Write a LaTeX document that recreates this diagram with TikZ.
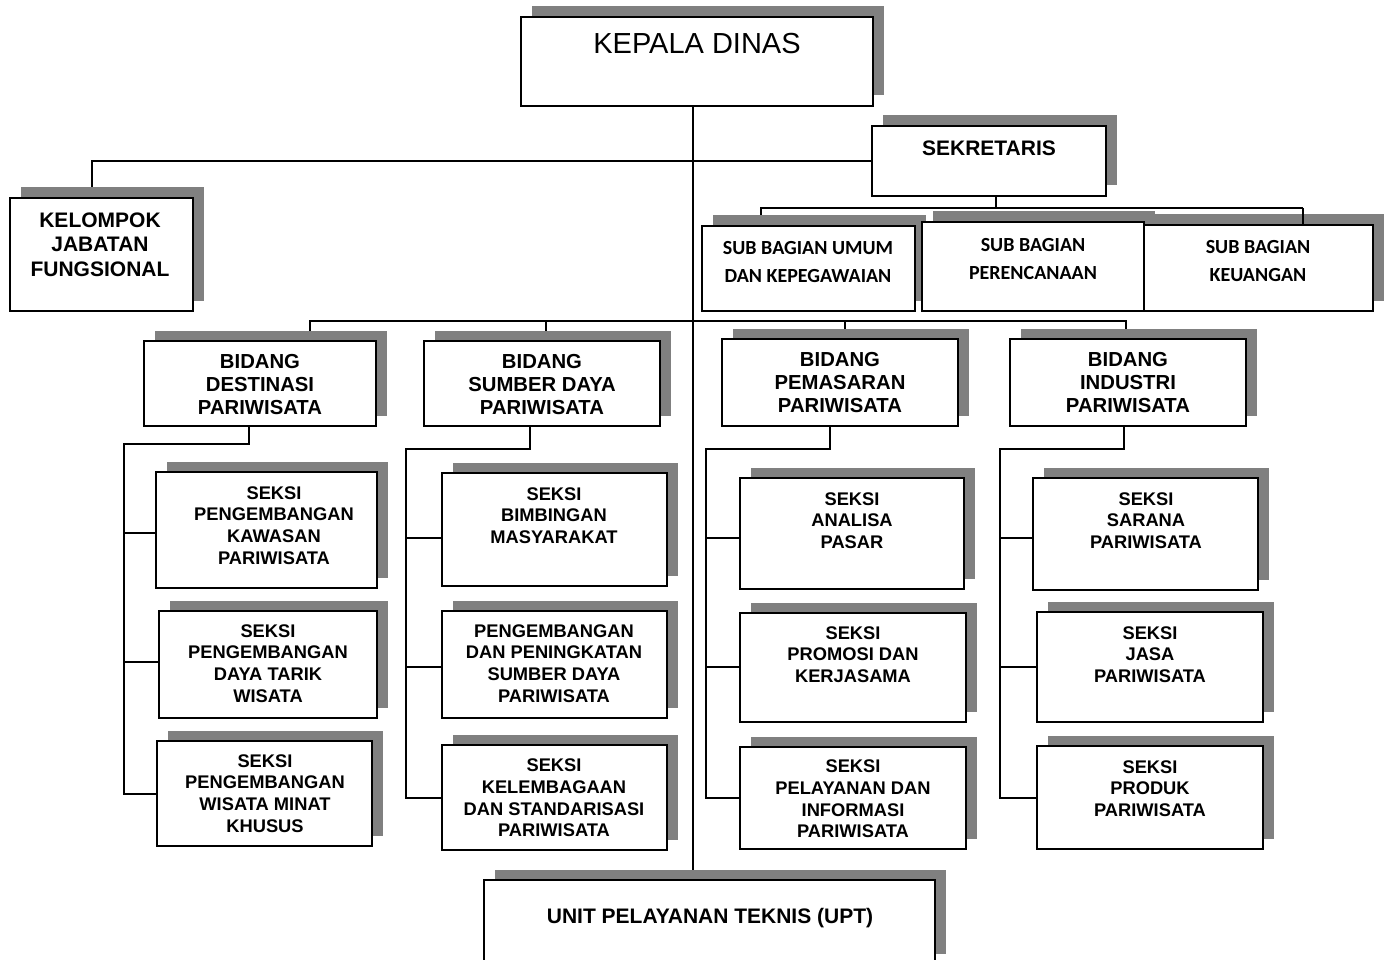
\documentclass[tikz,border=0pt]{standalone}
\usepackage{fontspec}
\setmainfont{Liberation Sans}
\newfontfamily\calib{Carlito}
\usetikzlibrary{fit,shadows}
\pgfdeclarelayer{bg}
\pgfsetlayers{bg,main}
\definecolor{shgray}{HTML}{808080}
\tikzset{
  box/.style={draw=black, line width=2pt, fill=white, inner sep=0pt,
    drop shadow={shadow xshift=10.5pt, shadow yshift=10.5pt, opacity=1, fill=shgray}},
  conn/.style={line width=1.8pt, black},
  tx/.style={inner sep=0pt, align=center, text=black},
  seks/.style={tx, font=\bfseries\fontsize{18.3}{21.7}\selectfont},
  bid/.style={tx, font=\bfseries\fontsize{20.3}{23}\selectfont},
  big/.style={tx, font=\bfseries\fontsize{21}{24.5}\selectfont},
  sub/.style={tx, font=\calib\bfseries\fontsize{20}{28}\selectfont},
  head/.style={tx, font=\fontsize{29}{34}\selectfont},
}
\begin{document}
\begin{tikzpicture}[x=1pt,y=-1pt]
\begin{pgfonlayer}{bg}
\path[fill=white] (0,0) rectangle (1392,960);
\end{pgfonlayer}
\path[use as bounding box] (0,0) rectangle (1392,960);

% ---------- boxes ----------
\node[box, fit={(521,17) (873,106)}] (KD) {};
\node[box, fit={(872,126) (1106,196)}] (SEK) {};
\node[box, fit={(10,198) (193,311)}] (KJF) {};
\node[box, fit={(702,226) (915,311)}] (SBU) {};
\node[box, fit={(922,222) (1144,311)}] (SBP) {};
\node[box, fit={(1144,225) (1373,311)}] (SBK) {};

\node[box, fit={(144,341) (376,426)}] (BD) {};
\node[box, fit={(424,341) (660,426)}] (BSD) {};
\node[box, fit={(722,339) (958,426)}] (BP) {};
\node[box, fit={(1010,339) (1246,426)}] (BI) {};

\node[box, fit={(156,472) (377,588)}] (S1) {};
\node[box, fit={(159,611) (377,718)}] (S2) {};
\node[box, fit={(157,741) (372,846)}] (S3) {};

\node[box, fit={(442,473) (667,586)}] (B1) {};
\node[box, fit={(442,611) (667,718)}] (B2) {};
\node[box, fit={(442,745) (667,850)}] (B3) {};

\node[box, fit={(740,478) (964,589)}] (P1) {};
\node[box, fit={(740,613) (966,722)}] (P2) {};
\node[box, fit={(740,747) (966,849)}] (P3) {};

\node[box, fit={(1033,478) (1258,590)}] (I1) {};
\node[box, fit={(1037,612) (1263,722)}] (I2) {};
\node[box, fit={(1037,746) (1263,849)}] (I3) {};

\node[box, fit={(484,880) (935,964)}] (UPT) {};

% ---------- texts ----------
\node[head] (KDt) at (697,44) {KEPALA DINAS};
\node[big] (SEKt) at (989,148) {SEKRETARIS};
\node[big] (KJFt) at (100,244.5) {KELOMPOK\\JABATAN\\FUNGSIONAL};
\node[sub] (SBUt) at (808,262) {SUB BAGIAN UMUM\\DAN KEPEGAWAIAN};
\node[sub] (SBPt) at (1033,259) {SUB BAGIAN\\PERENCANAAN};
\node[sub] (SBKt) at (1258,261) {SUB BAGIAN\\KEUANGAN};

\node[bid] (BDt) at (260,385) {BIDANG\\DESTINASI\\PARIWISATA};
\node[bid] (BSDt) at (542,385) {BIDANG\\SUMBER DAYA\\PARIWISATA};
\node[bid] (BPt) at (840,383) {BIDANG\\PEMASARAN\\PARIWISATA};
\node[bid] (BIt) at (1128,383) {BIDANG\\INDUSTRI\\PARIWISATA};

\node[seks] (S1t) at (274,525.5) {SEKSI\\PENGEMBANGAN\\KAWASAN\\PARIWISATA};
\node[seks] (S2t) at (268,663.5) {SEKSI\\PENGEMBANGAN\\DAYA TARIK\\WISATA};
\node[seks] (S3t) at (265,793.5) {SEKSI\\PENGEMBANGAN\\WISATA MINAT\\KHUSUS};

\node[seks] (B1t) at (554,515.5) {SEKSI\\BIMBINGAN\\MASYARAKAT};
\node[seks] (B2t) at (554,663.5) {PENGEMBANGAN\\DAN PENINGKATAN\\SUMBER DAYA\\PARIWISATA};
\node[seks] (B3t) at (554,798) {SEKSI\\KELEMBAGAAN\\DAN STANDARISASI\\PARIWISATA};

\node[seks] (P1t) at (852,520.5) {SEKSI\\ANALISA\\PASAR};
\node[seks] (P2t) at (853,654.5) {SEKSI\\PROMOSI DAN\\KERJASAMA};
\node[seks] (P3t) at (853,799) {SEKSI\\PELAYANAN DAN\\INFORMASI\\PARIWISATA};

\node[seks] (I1t) at (1146,520.5) {SEKSI\\SARANA\\PARIWISATA};
\node[seks] (I2t) at (1150,654.5) {SEKSI\\JASA\\PARIWISATA};
\node[seks] (I3t) at (1150,788.5) {SEKSI\\PRODUK\\PARIWISATA};

\node[big] (UPTt) at (710,918) {UNIT PELAYANAN TEKNIS (UPT)};

% ---------- connectors ----------
\coordinate (mx) at (693,0);
\coordinate (kj) at (92,162);
\coordinate (sx) at (996,208);
\coordinate (su1) at (761,208);
\coordinate (su2) at (1303,208);
\coordinate (bh1) at (310,321);
\coordinate (bh2) at (546,321);
\coordinate (bh3) at (845,321);
\coordinate (bh4) at (1126,321);
\coordinate (d0) at (249,444);  \coordinate (dc) at (124,444);
\coordinate (d1) at (124,533);  \coordinate (d2) at (124,662);  \coordinate (d3) at (124,794);
\coordinate (e0) at (530,449);  \coordinate (ec) at (406,449);
\coordinate (e1) at (406,538);  \coordinate (e2) at (406,667);  \coordinate (e3) at (406,798);
\coordinate (f0) at (830,449);  \coordinate (fc) at (706,449);
\coordinate (f1) at (706,538);  \coordinate (f2) at (706,667);  \coordinate (f3) at (706,798);
\coordinate (g0) at (1124,449); \coordinate (gc) at (1000,449);
\coordinate (g1) at (1000,538); \coordinate (g2) at (1000,667); \coordinate (g3) at (1000,798);

\begin{pgfonlayer}{bg}
\draw[conn] (KD.south -| mx) -- (UPT.north -| mx);
\draw[conn] (SEK.west) -- (SEK.west -| kj) -- (kj |- KJF.north);
\draw[conn] (SEK.south -| sx) -- (sx);
\draw[conn] (su1 |- SBU.north) -- (su1) -- (su2);
\draw[conn] (bh1 |- BD.north) -- (bh1) -- (bh4) -- (bh4 |- BI.north);
\draw[conn] (bh2) -- (bh2 |- BSD.north);
\draw[conn] (bh3) -- (bh3 |- BP.north);

\draw[conn] (BD.south -| d0) -- (d0) -- (dc) -- (d3) -- (d3 -| S3.west);
\draw[conn] (d1) -- (d1 -| S1.west);
\draw[conn] (d2) -- (d2 -| S2.west);

\draw[conn] (BSD.south -| e0) -- (e0) -- (ec) -- (e3) -- (e3 -| B3.west);
\draw[conn] (e1) -- (e1 -| B1.west);
\draw[conn] (e2) -- (e2 -| B2.west);

\draw[conn] (BP.south -| f0) -- (f0) -- (fc) -- (f3) -- (f3 -| P3.west);
\draw[conn] (f1) -- (f1 -| P1.west);
\draw[conn] (f2) -- (f2 -| P2.west);

\draw[conn] (BI.south -| g0) -- (g0) -- (gc) -- (g3) -- (g3 -| I3.west);
\draw[conn] (g1) -- (g1 -| I1.west);
\draw[conn] (g2) -- (g2 -| I2.west);
\end{pgfonlayer}
\draw[conn] (su2) -- (su2 |- SBK.north);
\end{tikzpicture}
\end{document}
